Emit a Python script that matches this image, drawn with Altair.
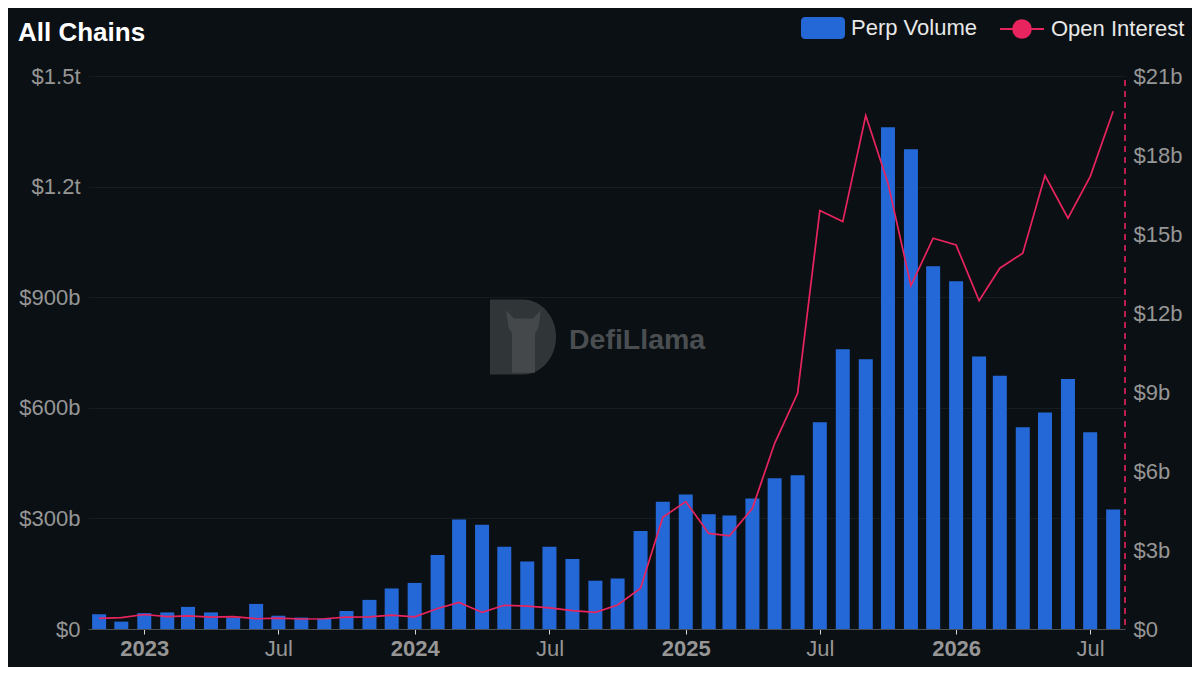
import altair as alt
import pandas as pd

FONT = "Liberation Sans"
BG = "#0b1014"
BLUE = "#2468d8"
PINK = "#e8245f"

months = [
    "2022-11-01", "2022-12-01",
    "2023-01-01", "2023-02-01", "2023-03-01", "2023-04-01", "2023-05-01", "2023-06-01",
    "2023-07-01", "2023-08-01", "2023-09-01", "2023-10-01", "2023-11-01", "2023-12-01",
    "2024-01-01", "2024-02-01", "2024-03-01", "2024-04-01", "2024-05-01", "2024-06-01",
    "2024-07-01", "2024-08-01", "2024-09-01", "2024-10-01", "2024-11-01", "2024-12-01",
    "2025-01-01", "2025-02-01", "2025-03-01", "2025-04-01", "2025-05-01", "2025-06-01",
    "2025-07-01", "2025-08-01", "2025-09-01", "2025-10-01", "2025-11-01", "2025-12-01",
    "2026-01-01", "2026-02-01", "2026-03-01", "2026-04-01", "2026-05-01", "2026-06-01",
    "2026-07-01", "2026-08-01",
]

# Perp volume, billions USD
perp_volume_b = [
    40, 20,
    43, 45, 60, 45, 31, 68,
    36, 31, 28, 49, 79, 110,
    125, 201, 297, 283, 223, 183,
    223, 190, 131, 137, 266, 345,
    365, 311, 308, 354, 409, 417,
    561, 759, 732, 1361, 1301, 984,
    943, 739, 687, 547, 587, 678,
    534, 324,
]

# Open interest, billions USD
open_interest_b = [
    0.40, 0.43,
    0.55, 0.47, 0.50, 0.45, 0.47, 0.39,
    0.41, 0.38, 0.39, 0.45, 0.46, 0.53,
    0.46, 0.78, 1.01, 0.63, 0.90, 0.87,
    0.80, 0.70, 0.63, 0.91, 1.55, 4.24,
    4.84, 3.63, 3.54, 4.58, 7.05, 8.95,
    15.89, 15.47, 19.50, 16.93, 13.04, 14.84,
    14.58, 12.47, 13.70, 14.27, 17.22, 15.60,
    17.18, 19.66,
]

series_names = ["Perp Volume", "Open Interest"]
x_tick_dates = [(2023, 1), (2023, 7), (2024, 1), (2024, 7), (2025, 1), (2025, 7), (2026, 1), (2026, 7)]
left_ticks = [0, 300, 600, 900, 1200, 1500]
right_ticks = [0, 3, 6, 9, 12, 15, 18, 21]
x_start = (2022, 10, 17)
x_end = (2026, 8, 17)
today = ["2026-08-17"]
title_text = ["All Chains"]
watermark = ["DefiLlama"]

df = pd.DataFrame({
    "month": months,
    "volume": perp_volume_b,
    "oi": open_interest_b,
    "s1": series_names[0],
    "s2": series_names[1],
})

x_scale = alt.Scale(
    type="utc",
    padding=0,
    domain=[alt.DateTime(year=x_start[0], month=x_start[1], date=x_start[2], utc=True),
            alt.DateTime(year=x_end[0], month=x_end[1], date=x_end[2], utc=True)],
)

x_axis = alt.Axis(
    values=[alt.DateTime(year=y, month=m, date=1, utc=True) for y, m in x_tick_dates],
    labelExpr="utcFormat(datum.value, '%m') == '01' ? utcFormat(datum.value, '%Y') : utcFormat(datum.value, '%b')",
    labelFontWeight={"condition": {"test": "utcFormat(datum.value, '%m') == '01'", "value": "bold"}, "value": "normal"},
    grid=False,
    domain=True,
    domainColor="#4a5053",
    ticks=True,
    tickColor="#d8d8d8",
    tickSize=5,
    labelPadding=4,
    labelColor="#969696",
)

bars = alt.Chart(df).mark_bar(size=14).encode(
    x=alt.X("month:T", scale=x_scale, axis=x_axis, title=None),
    y=alt.Y(
        "volume:Q",
        scale=alt.Scale(domain=[0, 1500], nice=False, zero=True),
        axis=alt.Axis(
            orient="left",
            values=left_ticks,
            labelExpr="datum.value == 0 ? '$0' : (datum.value >= 1000 ? '$' + (datum.value / 1000) + 't' : '$' + datum.value + 'b')",
            labelPadding=8,
        ),
        title=None,
    ),
    color=alt.Color(
        "s1:N",
        scale=alt.Scale(domain=[series_names[0]], range=[BLUE]),
        legend=alt.Legend(
            title=None,
            orient="none",
            legendX=713,
            legendY=-70,
            symbolType="M-0.82,-0.5H0.82A0.18,0.18 0 0 1 1,-0.32V0.32A0.18,0.18 0 0 1 0.82,0.5H-0.82A0.18,0.18 0 0 1 -1,0.32V-0.32A0.18,0.18 0 0 1 -0.82,-0.5Z",
            symbolSize=1936,
            symbolStrokeWidth=0,
            labelOffset=6,
            padding=0,
        ),
    ),
)

line = alt.Chart(df).mark_line(strokeWidth=1.7).encode(
    x=alt.X("month:T", title=None),
    y=alt.Y(
        "oi:Q",
        scale=alt.Scale(domain=[0, 21], nice=False, zero=True),
        axis=alt.Axis(
            orient="right",
            values=right_ticks,
            labelExpr="datum.value == 0 ? '$0' : '$' + datum.value + 'b'",
            labelPadding=8,
        ),
        title=None,
    ),
    stroke=alt.Stroke(
        "s2:N",
        scale=alt.Scale(domain=[series_names[1]], range=[PINK]),
        legend=alt.Legend(
            title=None,
            orient="none",
            legendX=911,
            legendY=-70,
            symbolType="M-1,0H1M0.4,0A0.4,0.4 0 1 1 -0.4,0A0.4,0.4 0 1 1 0.4,0Z",
            symbolSize=1936,
            symbolStrokeWidth=2,
            symbolFillColor=PINK,
            labelOffset=6,
            padding=0,
        ),
    ),
)

rule = alt.Chart(pd.DataFrame({"today": today})).mark_rule(
    color=PINK, strokeDash=[6, 5], strokeWidth=1.6
).encode(
    x=alt.X("today:T", title=None),
    y=alt.value(4),
    y2=alt.value(553),
)

wm_df = pd.DataFrame({"t": watermark})
logo = alt.Chart(wm_df).mark_point(
    shape="M-0.88,-1H0A0.88,1 0 0 1 0,1H-0.88Z",
    filled=True,
    size=5625,
    color="#303538",
    opacity=1,
).encode(x=alt.value(435), y=alt.value(261))

llama = alt.Chart(wm_df).mark_point(
    shape="M-0.36,0.98L-0.36,-0.25L-0.46,-0.42L-0.5,-0.66L-0.54,-0.98L-0.3,-0.72L0.3,-0.72L0.54,-0.98L0.5,-0.66L0.46,-0.42L0.36,-0.25L0.36,0.98Z",
    filled=True,
    size=4096,
    color="#44484b",
    opacity=1,
).encode(x=alt.value(435.5), y=alt.value(265.5))

wm_text = alt.Chart(wm_df).mark_text(
    font=FONT, fontSize=28.5, fontWeight="bold", color="#4a4e51", align="left", baseline="middle"
).encode(text="t:N", x=alt.value(481), y=alt.value(264))

title = alt.Chart(pd.DataFrame({"t": title_text})).mark_text(
    font=FONT, fontSize=26, fontWeight="bold", color="#ffffff", align="left", baseline="alphabetic"
).encode(text="t:N", x=alt.value(-70), y=alt.value(-35))

chart = alt.layer(logo, llama, wm_text, title, bars, line, rule).resolve_scale(
    y="independent"
).properties(
    width=1037,
    height=553,
    autosize=alt.AutoSizeParams(type="none"),
    padding={"left": 80, "top": 68, "right": 67, "bottom": 38},
    background=BG,
).configure_view(
    strokeWidth=0
).configure_axis(
    labelFont=FONT,
    labelFontSize=22,
    labelColor="#969696",
    gridColor="#161d21",
    gridWidth=1,
    domain=False,
    ticks=False,
).configure_axisX(
    domain=True,
    ticks=True,
    grid=False,
).configure_legend(
    labelFont=FONT,
    labelFontSize=22,
    labelColor="#e8e8e8",
)

chart.save("out.html", embed_options={"renderer": "svg", "actions": False})
